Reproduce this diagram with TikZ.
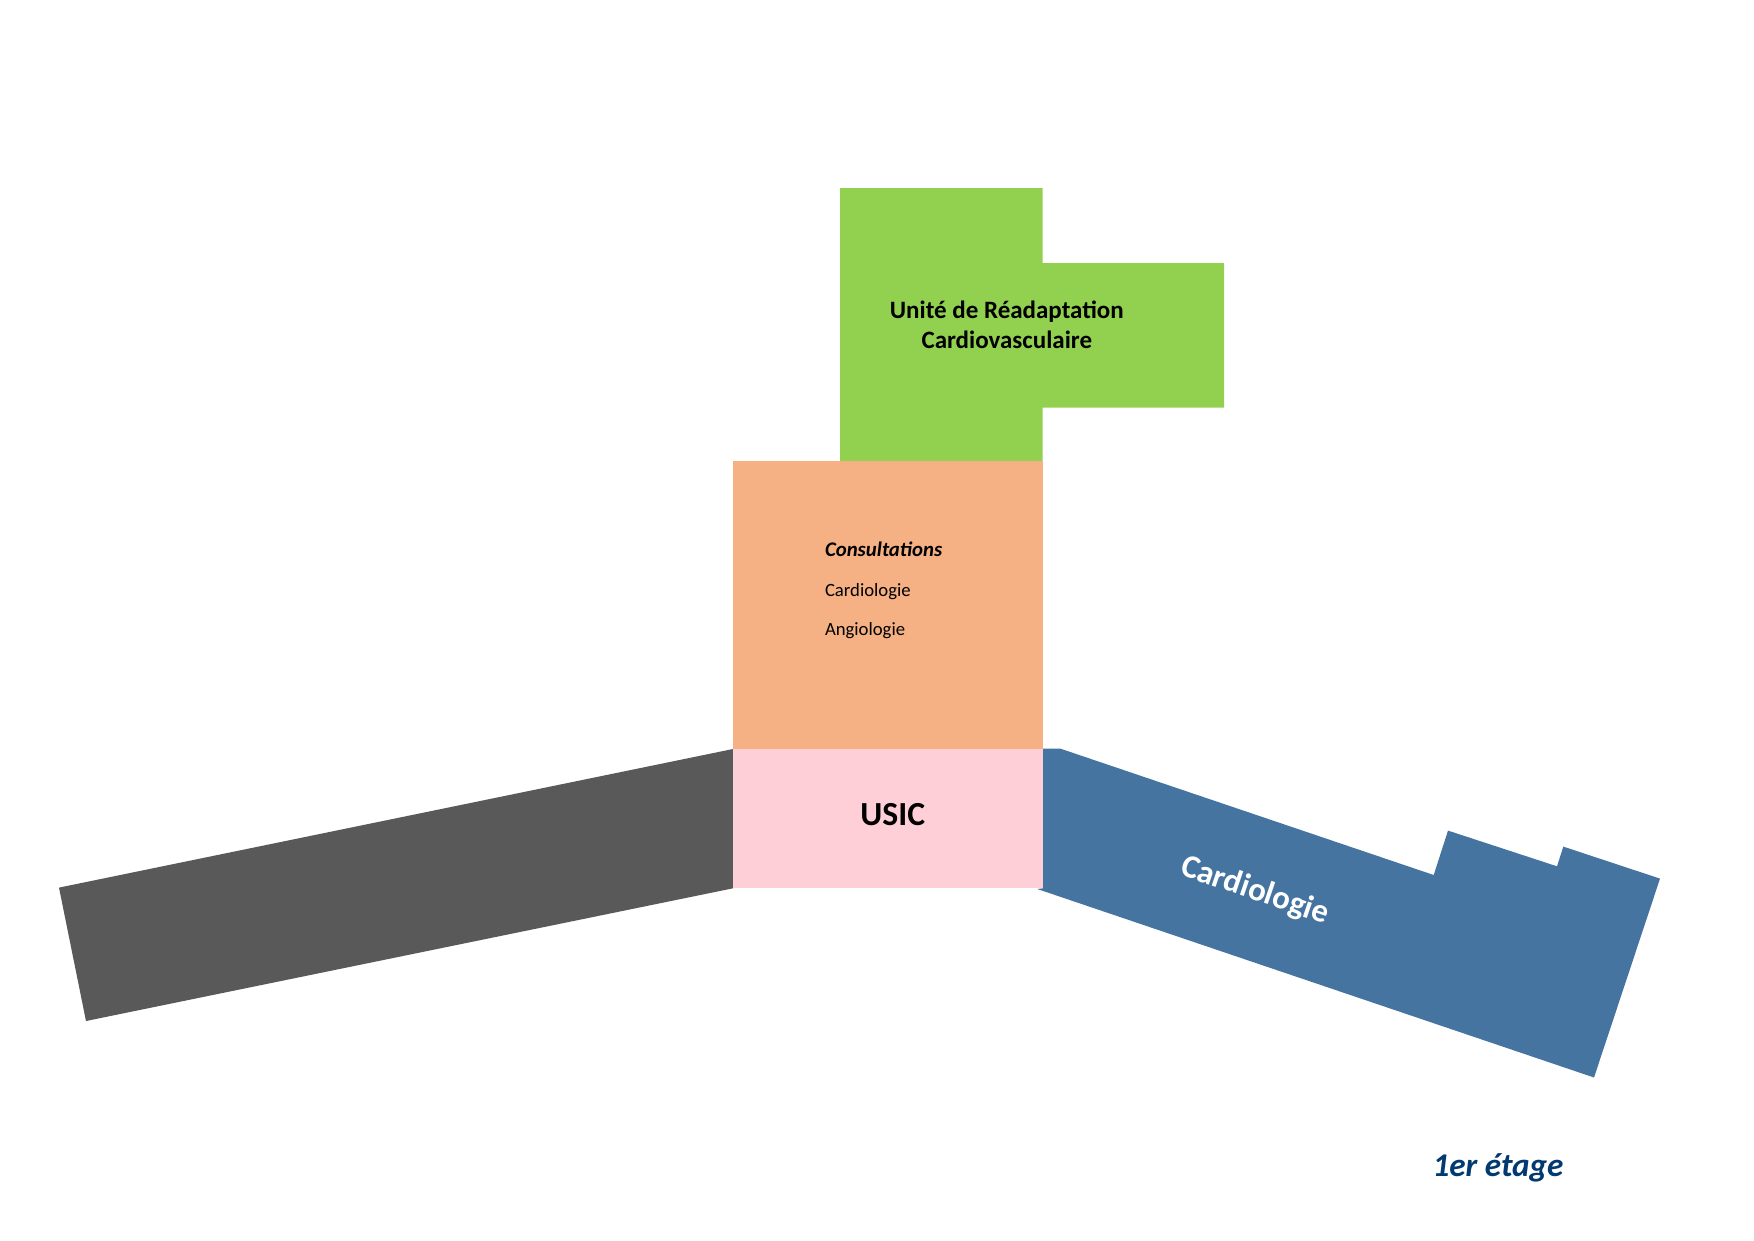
\documentclass[tikz,border=0pt]{standalone}
\usepackage{fontspec}
\setmainfont{Carlito}
\definecolor{cgreen}{HTML}{92D050}
\definecolor{corange}{HTML}{F5B083}
\definecolor{cpink}{HTML}{FFCFD7}
\definecolor{cblue}{HTML}{4574A1}
\definecolor{cgray}{HTML}{595959}
\definecolor{cnavy}{HTML}{003A70}
\tikzset{
  wing/.style={line width=0pt},
  label/.style={inner sep=0pt,outer sep=0pt,align=center,text=black},
  listitem/.style={inner sep=0pt,outer sep=0pt,anchor=base west,font=\fontsize{18.7}{22}\selectfont,text=black}
}
\begin{document}
\begin{tikzpicture}[x=1pt,y=-1pt]
\useasboundingbox (0,0) rectangle (1754,1240);
\fill[white] (0,0) rectangle (1754,1240);
\fill[cgray,wing] (733,749) -- (59,887.6) -- (86,1021) -- (733,888.3) -- cycle;
\fill[cblue,wing] (1043,748.5) -- (1060,748.5) -- (1433.7,875) -- (1448,830.6) -- (1557,866.3) -- (1563.3,846.6) -- (1660,878.6) -- (1594,1077.5) -- (1037.3,889) -- (1043,888.3) -- cycle;
\fill[cgreen,wing] (840,188) -- (1042.5,188) -- (1042.5,263) -- (1224,263) -- (1224,407.5) -- (1042.5,407.5) -- (1042.5,461) -- (840,461) -- cycle;
\fill[corange,wing] (733,461) rectangle (1043,748.5);
\fill[cpink,wing] (733,748.5) rectangle (1043,888.3);
\node[label,font=\bfseries\fontsize{25}{30}\selectfont] (unite) at (1006.8,324.3) {Unité de Réadaptation\\Cardiovasculaire};
\node[listitem,font=\bfseries\itshape\fontsize{20.8}{22}\selectfont] (cons) at (825,556) {Consultations};
\node[listitem] (card) at (825,596) {Cardiologie};
\node[listitem] (angio) at (825,635) {Angiologie};
\node[label,font=\bfseries\fontsize{33.7}{38}\selectfont] (usic) at (892.7,814.5) {USIC};
\node[label,rotate=-18.8,text=white,font=\bfseries\fontsize{32.9}{36}\selectfont] (cardio) at (1255,891) {Cardiologie};
\node[label,text=cnavy,font=\bfseries\itshape\fontsize{33.2}{38}\selectfont] (etage) at (1498,1168) {1er étage};
\end{tikzpicture}
\end{document}
